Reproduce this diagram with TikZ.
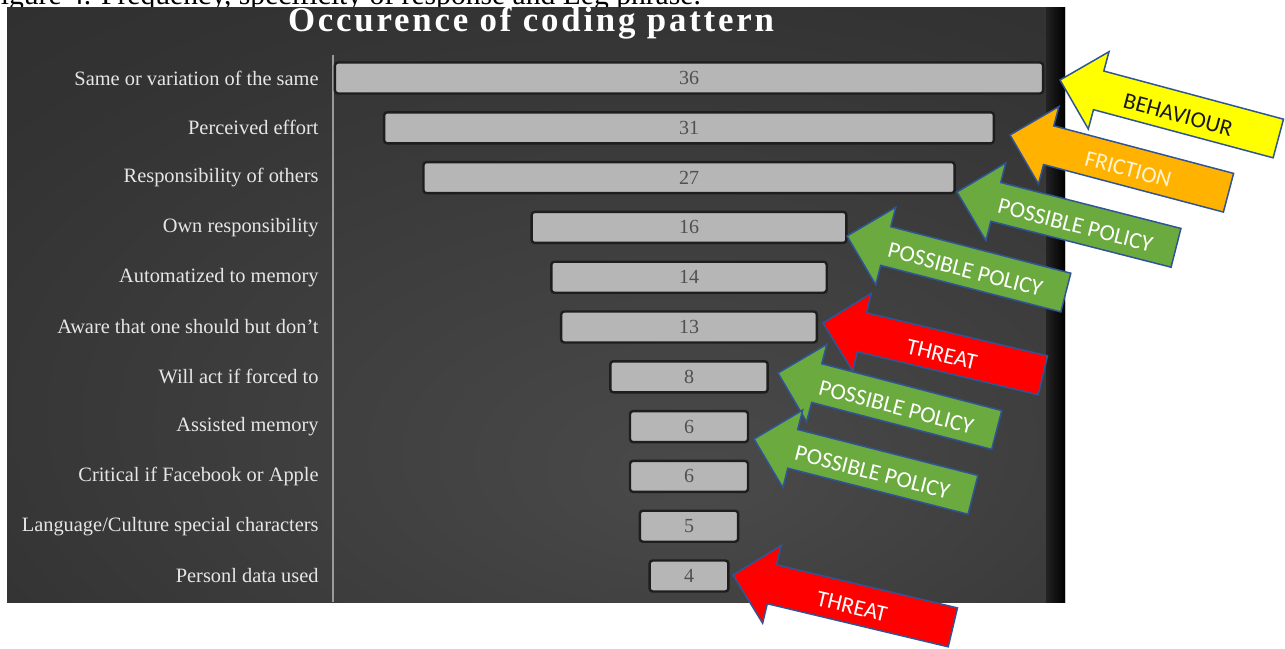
\documentclass[tikz,border=0pt]{standalone}
\usepackage{fontspec}
\setmainfont{Liberation Serif}
\newfontfamily\calloutfont{Carlito}
\newfontfamily\titlefont[LetterSpace=8]{Liberation Serif}
\usetikzlibrary{positioning}

\definecolor{panello}{HTML}{232323}
\definecolor{panelmid}{HTML}{333333}
\definecolor{panelhi}{HTML}{4A4A4A}
\definecolor{barfill}{HTML}{B6B6B6}
\definecolor{barline}{HTML}{1E1E1E}
\definecolor{countgray}{HTML}{505050}
\definecolor{labelgray}{HTML}{E6E6E6}
\definecolor{axisgray}{HTML}{9A9A9A}
\definecolor{arrowline}{HTML}{2F5597}
\definecolor{behaviour}{HTML}{FFFF00}
\definecolor{friction}{HTML}{FFB300}
\definecolor{frictiontext}{HTML}{FFF3D6}
\definecolor{policy}{HTML}{6BAA3E}
\definecolor{threat}{HTML}{FF0000}

\pgfdeclareradialshading{panelglow}{\pgfpoint{8bp}{-15bp}}{color(0bp)=(panelhi); color(35bp)=(panelmid); color(75bp)=(panello)}

\tikzset{
  barbox/.style={draw=barline, line width=1.2pt, fill=barfill, rounded corners=1.5pt,
    minimum height=15.5pt, inner sep=0pt, text=countgray, font=\fontsize{10}{12}\selectfont},
  rowlabel/.style={anchor=east, text=labelgray, inner sep=0pt, font=\fontsize{10.2}{12}\selectfont},
  arrowshape/.style={draw=arrowline, line width=0.75pt, line join=miter},
  arrowtext/.style={font=\calloutfont\fontsize{11.5}{13}\selectfont, transform shape, inner sep=0pt},
}

% block arrow: name, tip, angle, fill, text colour, text
\newcommand{\callout}[6]{%
  \begin{scope}[shift={#2}, rotate=#3]
    \filldraw[arrowshape, fill=#4] (0,0) -- (40,-40) -- (40,-20) -- (226,-20)
      -- (226,20) -- (40,20) -- (40,40) -- cycle;
    \node[arrowtext, text=#5] (#1) at (123,3) {#6};
  \end{scope}}

\begin{document}
\begin{tikzpicture}[x=0.5pt, y=-0.5pt]
    \useasboundingbox (0,0) rectangle (1285,648);

    % caption line, cut by the top edge
    \begin{scope}
      \clip (0,0) rectangle (1285,648);
      \node[anchor=base west, inner sep=0pt, font=\fontsize{14.8}{16}\selectfont] (caption) at (-16,4)
        {Figure 4. Frequency, specificity of response and Leg phrase.};
    \end{scope}

    % dark chart panel
    \shade[shading=panelglow] (7,7) rectangle (1065,602);
    \shade[left color=panello, right color=black] (1046,7) rectangle (1065,602);

    % title
    \node[text=white, inner sep=0pt, font=\titlefont\bfseries\fontsize{17.4}{20}\selectfont] (title) at (531,23)
      {Occurence of coding pattern};

    % axis
    \coordinate (axtop) at (333,55);
    \coordinate (axbot) at (333,602);
    \draw[axisgray, line width=1pt] (axtop) -- (axbot);

    % funnel bars, centred on one line
    \foreach \val/\lbl [count=\i] in {36/Same or variation of the same, 31/Perceived effort,
        27/Responsibility of others, 16/Own responsibility, 14/Automatized to memory,
        13/Aware that one should but don't, 8/Will act if forced to, 6/Assisted memory,
        6/Critical if Facebook or Apple, 5/{Language/Culture special characters}, 4/Personl data used}{
      \node[barbox, minimum width={\val*9.835pt}] (bar\i) at (689,{78+49.8*(\i-1)}) {\val};
      \node[rowlabel] (lab\i) at (319,{78+49.8*(\i-1)}) {\lbl};
    }

    % block arrows, top to bottom
    \callout{behav}{(1060,80)}{-15}{behaviour}{black!90}{BEHAVIOUR}
    \callout{fric}{(1010,135)}{-14.8}{friction}{frictiontext}{FRICTION}
    \callout{polA}{(957,192)}{-14.3}{policy}{white}{POSSIBLE POLICY}
    \callout{polB}{(847,236)}{-14.5}{policy}{white}{POSSIBLE POLICY}
    \callout{thrA}{(823,323)}{-13.4}{threat}{white}{THREAT}
    \callout{polC}{(778,373)}{-14.6}{policy}{white}{POSSIBLE POLICY}
    \callout{polD}{(754,439)}{-14.3}{policy}{white}{POSSIBLE POLICY}
    \callout{thrB}{(733,575)}{-13.4}{threat}{white}{THREAT}
\end{tikzpicture}
\end{document}
